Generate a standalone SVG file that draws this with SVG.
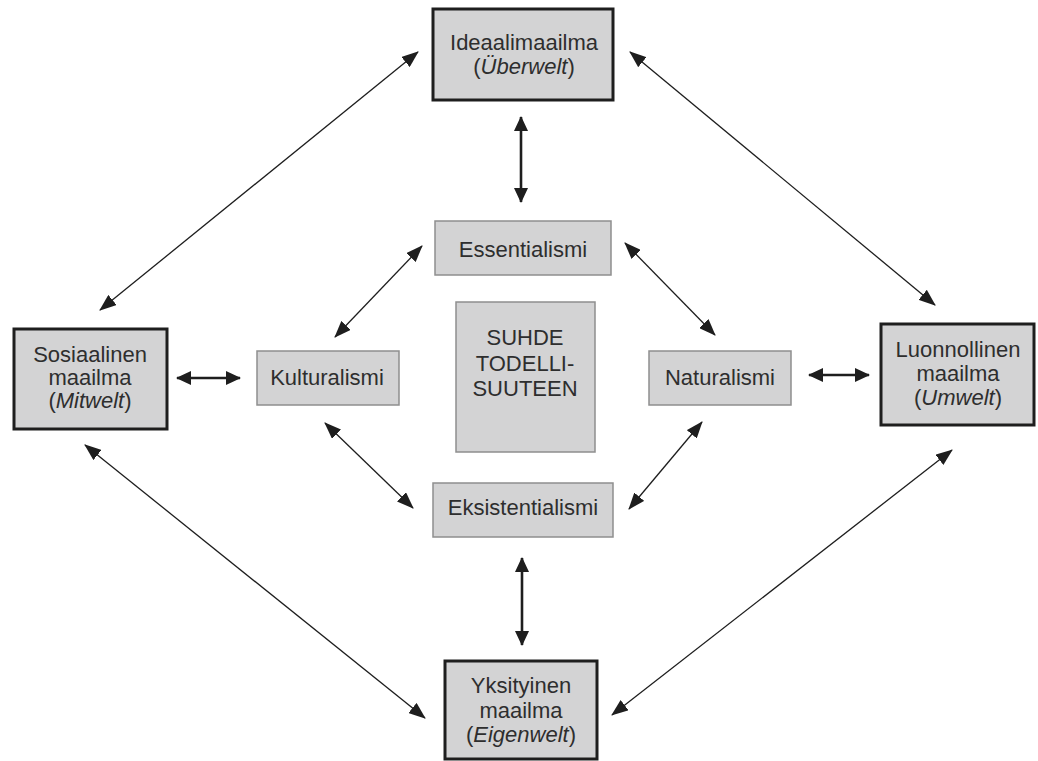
<svg xmlns="http://www.w3.org/2000/svg" width="1038" height="761" viewBox="0 0 1038 761">
<defs>
<style>
.world{fill:#d3d3d4;stroke:#1e1e1e;stroke-width:3}
.inner{fill:#d3d3d4;stroke:#8e8e8e;stroke-width:1.5}
text{font-family:"Liberation Sans",Arial,sans-serif;font-size:22px;fill:#2e2e2e;text-anchor:middle}
.it{font-style:italic}
.thin{stroke:#1e1e1e;stroke-width:1.3;fill:none}
.thick{stroke:#1e1e1e;stroke-width:2.6;fill:none}
</style>
<marker id="ah" markerUnits="userSpaceOnUse" viewBox="0 0 17 13" refX="16" refY="6.5" markerWidth="17" markerHeight="13" orient="auto-start-reverse">
<path d="M0,0 L17,6.5 L0,13 Z" fill="#1e1e1e"/>
</marker>
<marker id="ahb" markerUnits="userSpaceOnUse" viewBox="0 0 15 14" refX="14" refY="7" markerWidth="15" markerHeight="14" orient="auto-start-reverse">
<path d="M0,0 L15,7 L0,14 Z" fill="#1e1e1e"/>
</marker>
</defs>
<rect width="1038" height="761" fill="#ffffff"/>
<g id="connectors">
<line class="thin" x1="418" y1="52" x2="100" y2="310" marker-start="url(#ah)" marker-end="url(#ah)"/>
<line class="thin" x1="630" y1="52" x2="935" y2="305" marker-start="url(#ah)" marker-end="url(#ah)"/>
<line class="thin" x1="85" y1="445" x2="425" y2="718" marker-start="url(#ah)" marker-end="url(#ah)"/>
<line class="thin" x1="952" y1="450" x2="612" y2="715" marker-start="url(#ah)" marker-end="url(#ah)"/>
<line class="thin" x1="422" y1="246" x2="335" y2="337" marker-start="url(#ah)" marker-end="url(#ah)"/>
<line class="thin" x1="625" y1="243" x2="715" y2="335" marker-start="url(#ah)" marker-end="url(#ah)"/>
<line class="thin" x1="325" y1="423" x2="413" y2="508" marker-start="url(#ah)" marker-end="url(#ah)"/>
<line class="thin" x1="702" y1="422" x2="629" y2="509" marker-start="url(#ah)" marker-end="url(#ah)"/>
<line class="thick" x1="521" y1="117" x2="521" y2="202" marker-start="url(#ahb)" marker-end="url(#ahb)"/>
<line class="thick" x1="522" y1="558" x2="522" y2="645" marker-start="url(#ahb)" marker-end="url(#ahb)"/>
<line class="thick" x1="177" y1="378" x2="240" y2="378" marker-start="url(#ahb)" marker-end="url(#ahb)"/>
<line class="thick" x1="809" y1="375" x2="869" y2="375" marker-start="url(#ahb)" marker-end="url(#ahb)"/>
</g>
<g id="ideaalimaailma">
<rect class="world" x="433" y="9" width="180" height="91"/>
<text x="524" y="50">Ideaalimaailma</text>
<text x="524" y="74">(<tspan class="it">Überwelt</tspan>)</text>
</g>
<g id="sosiaalinen">
<rect class="world" x="14" y="329" width="153" height="100"/>
<text x="90" y="362">Sosiaalinen</text>
<text x="90" y="385">maailma</text>
<text x="90" y="408">(<tspan class="it">Mitwelt</tspan>)</text>
</g>
<g id="luonnollinen">
<rect class="world" x="881" y="324" width="153" height="101"/>
<text x="958" y="357">Luonnollinen</text>
<text x="958" y="381">maailma</text>
<text x="958" y="405">(<tspan class="it">Umwelt</tspan>)</text>
</g>
<g id="yksityinen">
<rect class="world" x="445" y="661" width="152" height="98"/>
<text x="521" y="693">Yksityinen</text>
<text x="521" y="718">maailma</text>
<text x="521" y="742">(<tspan class="it">Eigenwelt</tspan>)</text>
</g>
<g id="essentialismi">
<rect class="inner" x="435" y="221" width="176" height="54"/>
<text x="523" y="257">Essentialismi</text>
</g>
<g id="kulturalismi">
<rect class="inner" x="257" y="351" width="142" height="54"/>
<text x="327" y="385">Kulturalismi</text>
</g>
<g id="naturalismi">
<rect class="inner" x="649" y="351" width="142" height="54"/>
<text x="720" y="385">Naturalismi</text>
</g>
<g id="eksistentialismi">
<rect class="inner" x="433" y="483" width="180" height="54"/>
<text x="523" y="515">Eksistentialismi</text>
</g>
<g id="suhde">
<rect class="inner" x="456" y="302" width="139" height="150"/>
<text x="525" y="345">SUHDE</text>
<text x="525" y="371">TODELLI-</text>
<text x="525" y="396">SUUTEEN</text>
</g>
</svg>
